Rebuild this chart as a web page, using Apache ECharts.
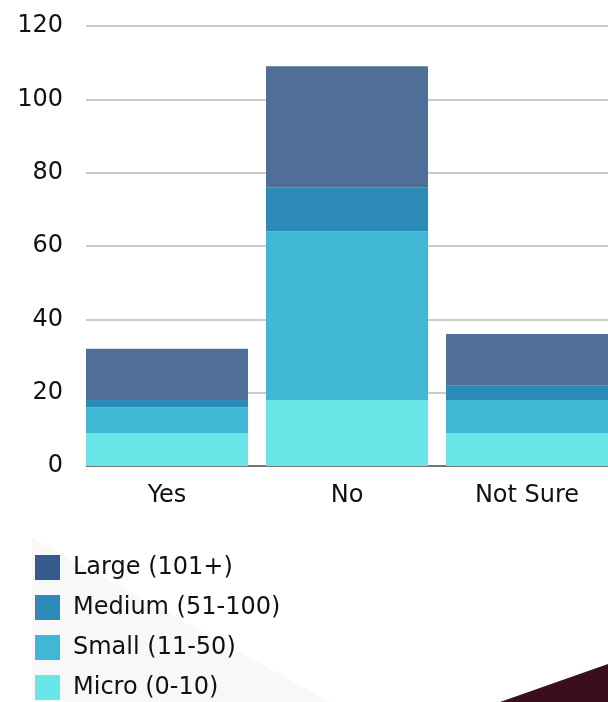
<!DOCTYPE html>
<html>
<head>
<meta charset="utf-8">
<script src="https://cdn.jsdelivr.net/npm/echarts@6/dist/echarts.min.js"></script>
<style>
  html, body { margin: 0; padding: 0; background: #ffffff; }
  #chart { width: 608px; height: 702px; }
</style>
</head>
<body>
<div id="chart"></div>
<script>
// Survey answers, split by business size
const categories = ['Yes', 'No', 'Not Sure'];
const micro  = [9, 18, 9];
const small  = [7, 46, 9];
const medium = [2, 12, 4];
const large  = [14, 33, 14];
const yTicks = [0, 20, 40, 60, 80, 100, 120];

const seriesNames = ['Large (101+)', 'Medium (51-100)', 'Small (11-50)', 'Micro (0-10)'];
const barColors   = ['#4F6E98', '#2B8AB8', '#41B7D6', '#6AE5E8'];
const keyColors   = ['#355A8E', '#2B8AB8', '#41B7D6', '#6AE5E8'];
const FONT = '"DejaVu Sans", "Noto Sans", sans-serif';
const FONT_SIZE = 24;

const chart = echarts.init(document.getElementById('chart'), null, { renderer: 'canvas' });

const stackOrder = [
  { name: seriesNames[3], data: micro,  color: barColors[3] },
  { name: seriesNames[2], data: small,  color: barColors[2] },
  { name: seriesNames[1], data: medium, color: barColors[1] },
  { name: seriesNames[0], data: large,  color: barColors[0] }
];

chart.setOption({
  backgroundColor: '#ffffff',
  animation: false,
  graphic: [
    // faint background shapes
    {
      type: 'polygon', z: -10, silent: true,
      shape: { points: [[32, 538], [330, 702], [32, 702]] },
      style: { fill: '#f8f8f8' }
    },
    {
      type: 'polygon', z: -10, silent: true,
      shape: { points: [[500, 702], [608, 664], [608, 702]] },
      style: { fill: '#3a0f1b' }
    },
    // the rules begin where the first bar begins
    {
      type: 'rect', z: 50, silent: true,
      shape: { x: 70, y: 15, width: 16, height: 455 },
      style: { fill: '#ffffff' }
    }
  ],
  grid: {
    left: 77, top: 26, width: 540, height: 440,
    containLabel: false,
    outerBoundsMode: 'none'
  },
  legend: {
    orient: 'vertical',
    left: 30,
    top: 550,
    height: 160,
    itemWidth: 25,
    itemHeight: 25,
    itemGap: 15,
    icon: 'rect',
    textStyle: {
      fontFamily: FONT, fontSize: FONT_SIZE, color: '#111111',
      lineHeight: 25, padding: [0, 0, 0, 8]
    },
    data: seriesNames.map((n, i) => ({ name: n, itemStyle: { color: keyColors[i] } }))
  },
  xAxis: {
    type: 'category',
    data: categories,
    axisLine: { lineStyle: { color: '#747474', width: 2 } },
    axisTick: { show: false },
    axisLabel: { fontFamily: FONT, fontSize: FONT_SIZE, color: '#111111', margin: 18 }
  },
  yAxis: {
    type: 'value',
    min: yTicks[0],
    max: yTicks[yTicks.length - 1],
    interval: 20,
    axisLine: { show: false },
    axisTick: { show: false },
    splitLine: { lineStyle: { color: '#cccccc', width: 2 } },
    axisLabel: { fontFamily: FONT, fontSize: FONT_SIZE, color: '#111111', margin: 14 }
  },
  series: stackOrder.map(s => ({
    name: s.name,
    type: 'bar',
    stack: 'total',
    data: s.data,
    barCategoryGap: '10%',
    itemStyle: { color: s.color },
    emphasis: { disabled: true }
  }))
});
</script>
</body>
</html>
